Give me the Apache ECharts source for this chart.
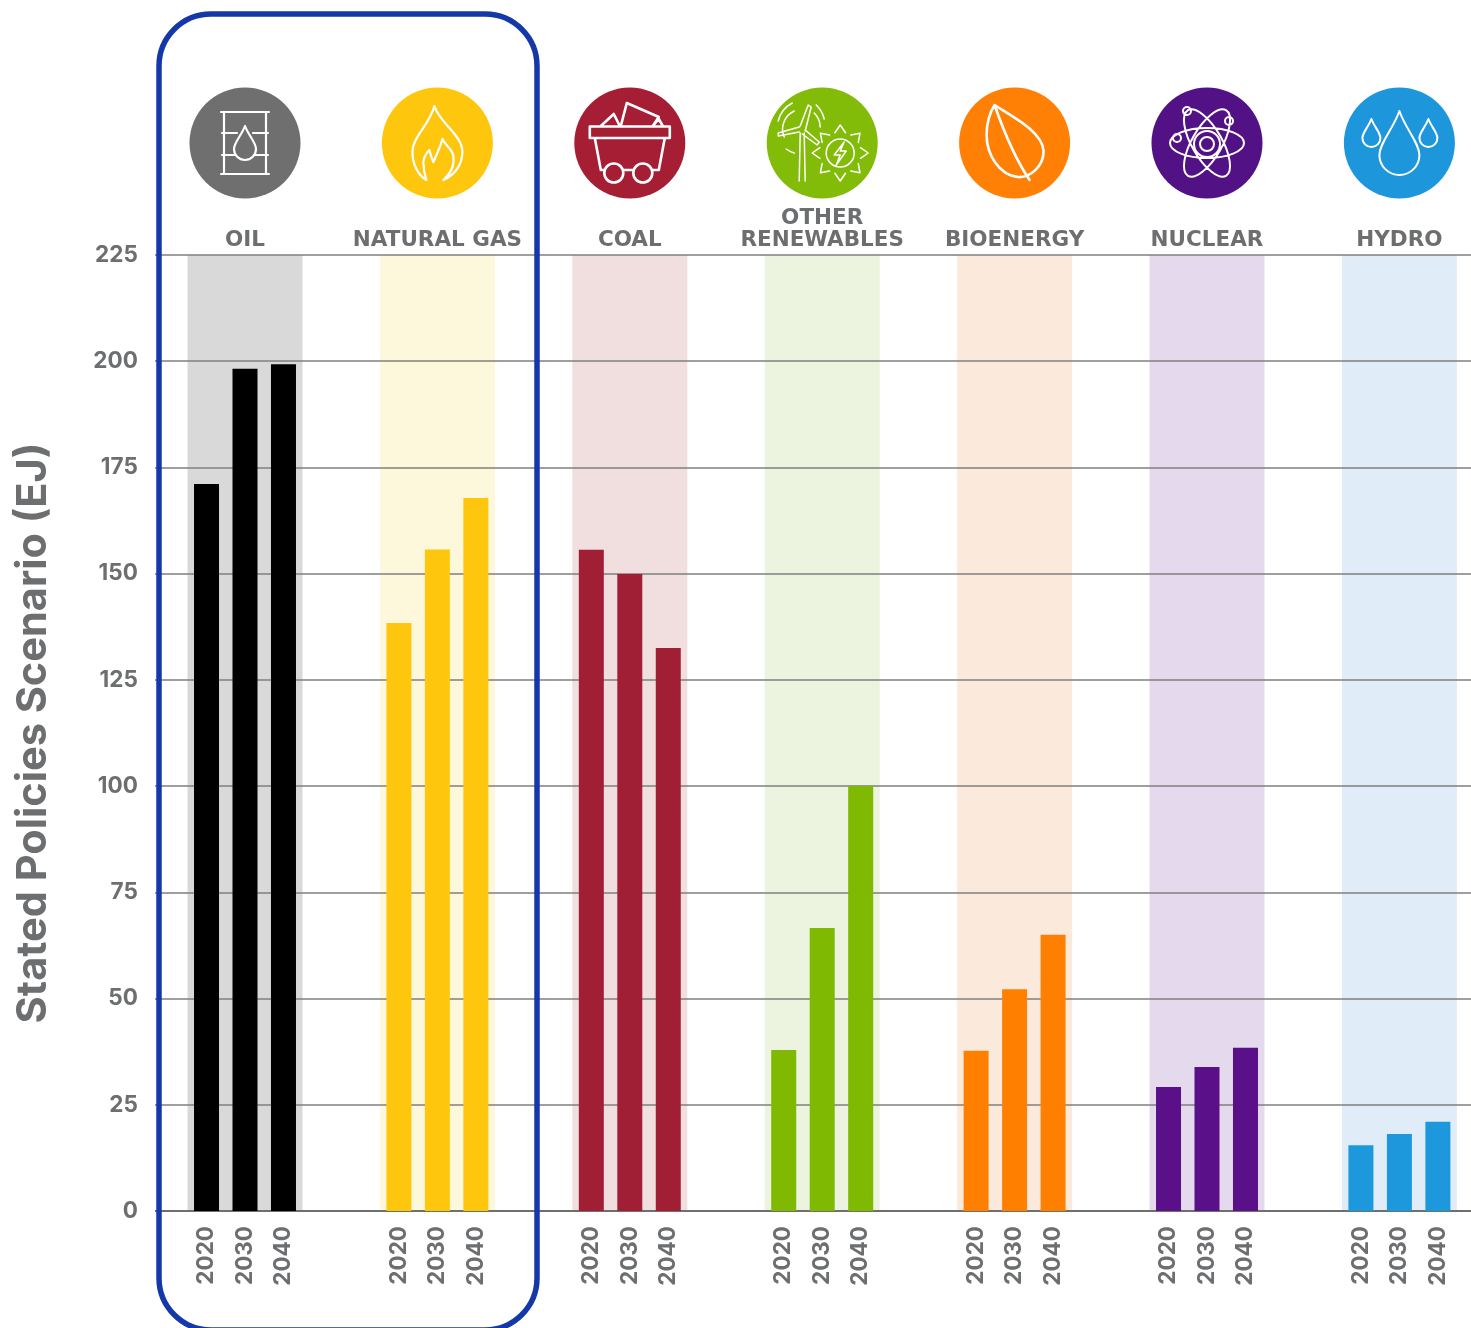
<!DOCTYPE html>
<html><head><meta charset="utf-8">
<style>html,body{margin:0;padding:0;background:#fff}#c{width:1471px;height:1328px}</style>
<script src="https://cdn.jsdelivr.net/npm/echarts@6/dist/echarts.min.js"></script>
</head><body><div id="c"></div>
<script>
const years = ['2020','2030','2040'];
const groups = ['OIL','NATURAL GAS','COAL','OTHER\nRENEWABLES','BIOENERGY','NUCLEAR','HYDRO'];
const oil = [171.1,198.2,199.3];
const naturalGas = [138.4,155.7,167.8];
const coal = [155.6,149.9,132.5];
const otherRenewables = [37.9,66.6,100];
const bioenergy = [37.7,52.2,65];
const nuclear = [29.2,33.9,38.4];
const hydro = [15.5,18.1,21];
const yTicks = {min:0,max:225,interval:25};
const bandTop = 225;
const values = [oil,naturalGas,coal,otherRenewables,bioenergy,nuclear,hydro];
const barColors = ['#000000','#fec70e','#a01f34','#80b902','#ff8000','#5a1088','#1e98dc'];
const bandColors = ['#d9d9d9','#fdf7db','#f1dfdf','#ecf3de','#fbeadb','#e5d9ed','#e0ecf7'];
const iconColors = ['#6f6f70','#fec70e','#a61e34','#82bb08','#ff8004','#521185','#1e96dc'];
const grey = '#6d6e70';
const font = 'Inter';

// category axis: one leading blank, then year, year, year, blank, blank per group
const cats = [''];
groups.forEach(()=>cats.push(...years,'',''));
cats.pop();
const idx = (g,y)=>1+g*5+y;

function circ(x,y,r){return `M${x-r} ${y}a${r} ${r} 0 1 0 ${2*r} 0a${r} ${r} 0 1 0 ${-2*r} 0`;}
function drop(x,top,cy,r){return `M${x} ${top}C${x-r*0.3} ${top+(cy-top)*0.4} ${x-r} ${cy-r*0.6} ${x-r} ${cy}A${r} ${r} 0 0 0 ${x+r} ${cy}C${x+r} ${cy-r*0.6} ${x+r*0.3} ${top+(cy-top)*0.4} ${x} ${top}Z`;}
function ell(rx,ry,deg){const a=deg*Math.PI/180,c=Math.cos(a)*rx,s=Math.sin(a)*rx;
  return `M${-c} ${-s}A${rx} ${ry} ${deg} 1 0 ${c} ${s}A${rx} ${ry} ${deg} 1 0 ${-c} ${-s}`;}
function sunRays(cx,cy,r){let d='';for(let i=0;i<8;i++){const a=i*Math.PI/4,b=0.16;
  const p=(rr,t)=>`${(cx+rr*Math.cos(t)).toFixed(1)} ${(cy+rr*Math.sin(t)).toFixed(1)}`;
  d+=`M${p(r-6,a-b*1.6)}L${p(r+1,a)}L${p(r-6,a+b*1.6)}`;}return d;}

const icons = [
 [[2.2,'M-24 -31H24M-24 31H24M-21 -31V31M21 -31V31M-23 -10H-8M8 -10H23M-23 12H-10M10 12H23'+drop(0,-17,6,11)]],
 [[2.2,'M-11 37C-20 32 -25 20 -25 9C-25 -6 -8 -18 -3 -37C2 -20 25 -8 25 9C25 22 17 32 6 37C15 28 17 22 16 13C15 6 9 4 5 -4C3 4 -1 12 -4 19C-6 15 -7 11 -8 7C-12 11 -14 15 -14 20C-14 27 -13 31 -11 37Z']],
 [[2.6,'M-40 -16.5H40V-5H-40ZM-35 -5L-29 27H-25M-7 27H4M22 27H29L35 -5'+circ(-16,30,9.5)+circ(13,30,9.5)+'M-9 -17L-3 -40L29 -26L23 -17M-29 -17L-16 -29L-10 -17M23 -17L29 -24L33 -17']],
 [[1.5,'M-23 38L-22 -10M-17 38L-18 -10M-22 -17L-14 -38L-11 -36L-17 -12M-23 -16L-44 -10L-44 -7L-23 -11M-17 -13L-3 -1L-5 2L-20 -9'+
   'M-38 -6A20 20 0 0 1 -28 -32M-8 -30A20 20 0 0 1 -2 -16M-44 -22A28 28 0 0 1 -30 -40M-6 -38A28 28 0 0 1 2 -24M-36 6A26 26 0 0 0 -28 10'+
   circ(18,10,14)+sunRays(18,10,27)+'M22 -1L12 12H18L14 22L24 8H18Z']],
 [[2.6,'M-20 -38C-5 -28 28 -12 29 8C29 24 15 35 3 34C-15 32 -28 12 -28 -8C-28 -20 -25 -30 -20 -38ZM-20 -38C-12 -15 0 15 15 37']],
 [[2,circ(0,1,7)+circ(0,1,13)+ell(37,15,0)+ell(38,15,60)+ell(38,15,-60)+circ(-20,-32,4)+circ(22,-22,4)+circ(-30,-5,4)]],
 [[2,drop(0,-32,12,20)+drop(-28,-24,-5,9)+drop(29,-24,-5,9)]]
];

const barSeries = groups.map((g,gi)=>{
  const data = cats.map(()=>null);
  years.forEach((y,yi)=>{data[idx(gi,yi)] = values[gi][yi];});
  return {name:g,type:'bar',xAxisIndex:0,yAxisIndex:0,barWidth:25,barGap:'-100%',z:3,silent:true,
    itemStyle:{color:barColors[gi]},data};
});
const bandData = cats.map(()=>null);
groups.forEach((g,gi)=>{bandData[idx(gi,1)] = {value:bandTop,itemStyle:{color:bandColors[gi]},
  label:{show:true,position:'top',distance:4,formatter:g,color:grey,fontFamily:'DejaVu Sans',fontWeight:700,fontSize:21.5,lineHeight:22,align:'center'}};});

const iconData = groups.map((g,gi)=>[idx(gi,1),bandTop,gi]);

const chart = echarts.init(document.getElementById('c'),null,{renderer:'canvas'});
chart.setOption({
  animation:false,
  backgroundColor:'#fff',
  grid:{left:148.8,width:1346.8,top:255,bottom:117,containLabel:false,outerBoundsMode:'none'},
  xAxis:[
   {type:'category',data:cats,z:2,boundaryGap:true,
    axisLine:{show:true,lineStyle:{color:'#6f6f6f',width:2}},axisTick:{show:false},splitLine:{show:false},
    axisLabel:{show:true,interval:0,rotate:90,margin:15,color:grey,fontFamily:font,fontWeight:700,fontSize:22.5}},
   {type:'category',data:cats,show:false}
  ],
  yAxis:{type:'value',min:yTicks.min,max:yTicks.max,interval:yTicks.interval,z:2,
    name:'Stated Policies Scenario (EJ)',nameLocation:'middle',nameRotate:90,nameGap:94,
    nameTextStyle:{color:grey,fontFamily:font,fontWeight:700,fontSize:41.5},
    axisLine:{show:false},axisTick:{show:false},
    splitLine:{show:true,lineStyle:{color:'#7f7f7f',width:1.5}},
    axisLabel:{margin:11,color:grey,fontFamily:font,fontWeight:700,fontSize:22.5}},
  series:[
   {type:'bar',name:'bands',xAxisIndex:1,yAxisIndex:0,barWidth:115,z:1,silent:true,data:bandData},
   ...barSeries,
   {type:'custom',name:'icons',xAxisIndex:0,yAxisIndex:0,z:4,silent:true,clip:false,data:iconData,
    encode:{x:0,y:1},
    renderItem(params,api){
      const gi = api.value(2);
      const p = api.coord([api.value(0),api.value(1)]);
      const children=[{type:'circle',shape:{cx:0,cy:0,r:55.5},style:{fill:iconColors[gi]}}];
      icons[gi].forEach(([w,d])=>children.push({type:'path',shape:{pathData:d},
        style:{fill:'none',stroke:'#fff',lineWidth:w,lineJoin:'round',lineCap:'round'}}));
      return {type:'group',x:p[0],y:p[1]-112,children};
    }}
  ],
  graphic:[
   {type:'rect',z:50,silent:true,shape:{x:142,y:245,width:13,height:975},style:{fill:'#fff'}},
   {type:'rect',z:60,silent:true,shape:{x:159,y:14,width:378,height:1316,r:52},
    style:{fill:'transparent',stroke:'#1538a8',lineWidth:5.5}}
  ]
});
</script></body></html>
